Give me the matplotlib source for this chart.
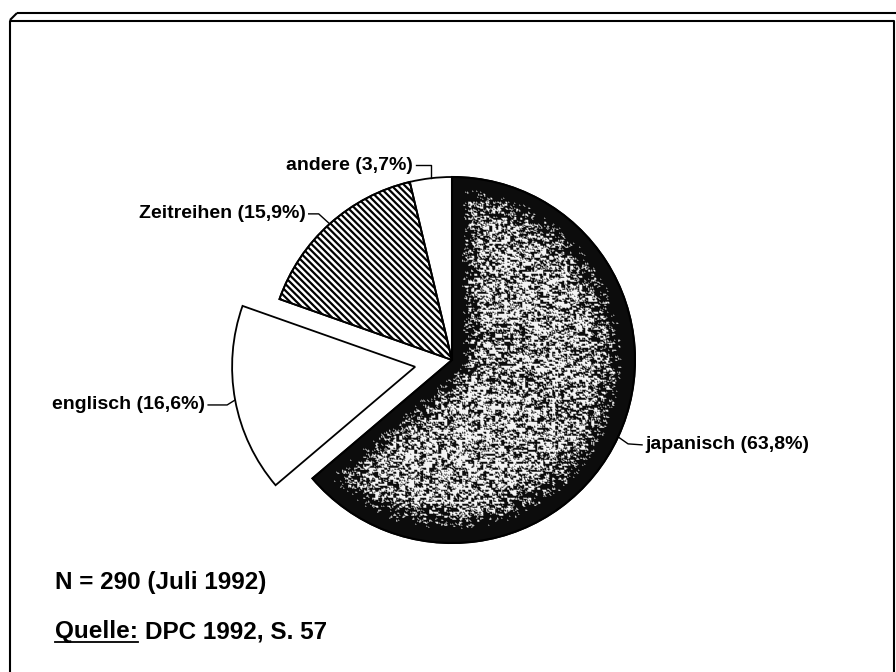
import numpy as np
import matplotlib
matplotlib.use("Agg")
import matplotlib.pyplot as plt
from matplotlib.patches import Wedge
from matplotlib.collections import LineCollection

# data
labels = ["japanisch", "englisch", "Zeitreihen", "andere"]
shares = [63.8, 16.6, 15.9, 3.7]
explode = [0.0, 0.205, 0.0, 0.0]
note_n = "N = 290 (Juli 1992)"
source_head = "Quelle:"
source_text = "DPC 1992, S. 57"

W, H = 896, 672                 # canvas in pixels, y up
CX, CY, R = 452, 312, 183       # pie centre and radius
FONT = ["Liberation Sans", "DejaVu Sans"]
plt.rcParams['font.family'] = FONT

# leader elbows relative to the arc point at the wedge middle, text side
LEADERS = {"japanisch": ([(10, -7), (24, -8)], 'left'),
           "englisch": ([(-8, -5), (-27, -5)], 'right'),
           "Zeitreihen": ([(-11, 10), (-21, 10)], 'right'),
           "andere": ([(0, 13), (-15, 13)], 'right')}

fig = plt.figure(figsize=(W / 100, H / 100), dpi=100)
ax = fig.add_axes([0, 0, 1, 1])
ax.set_xlim(0, W); ax.set_ylim(0, H); ax.axis('off')


def fmt(v):
    return f"{v:.1f}".replace('.', ',')


def hashnoise(ix, iy, seed):
    """integer hash of pixel coordinates -> [0, 1)"""
    h = (ix.astype(np.uint64) * 374761393 + iy.astype(np.uint64) * 668265263
         + seed * 2246822519) & 0xFFFFFFFF
    h = ((h ^ (h >> 13)) * 1274126177) & 0xFFFFFFFF
    h = h ^ (h >> 16)
    return h.astype(np.float64) / 4294967296.0


def stipple(cx, cy, t1, t2):
    """grey grain, solid black towards the wedge border"""
    IX, IY = np.meshgrid(np.arange(W), np.arange(H))
    dx, dy = IX + 0.5 - cx, IY + 0.5 - cy
    r = np.hypot(dx, dy)

    def ray(a):
        ux, uy = np.cos(np.deg2rad(a)), np.sin(np.deg2rad(a))
        along = dx * ux + dy * uy
        return np.where(along > 0, np.abs(dx * uy - dy * ux), r)

    d = np.minimum(R - r, np.minimum(ray(t1), ray(t2)) * 1.25)
    p = 0.42 + 0.58 * np.clip((46 - d) / 34, 0, 1) ** 1.3
    fine = hashnoise(IX, IY, 1)
    coarse = hashnoise(IX // 3, IY // 2, 2)
    n = 0.6 * coarse + 0.4 * fine
    u = n.ravel().argsort().argsort().reshape(n.shape) / n.size
    img = np.where(u < p, 0.0, 1.0)
    # soften the grain a little, like a scanned screen
    img = (img * 2 + np.roll(img, 1, 0) + np.roll(img, 1, 1)) / 4
    return 0.05 + 0.9 * img


theta = 90.0
total = sum(shares)
for lab, v, ex in zip(labels, shares, explode):
    span = 360.0 * v / total
    t1, t2 = theta - span, theta
    theta = t1
    mid = np.deg2rad((t1 + t2) / 2)
    cx, cy = CX + ex * R * np.cos(mid), CY + ex * R * np.sin(mid)
    w = Wedge((cx, cy), R, t1, t2, facecolor='white', edgecolor='black',
              linewidth=1.3, zorder=2)
    ax.add_patch(w)
    if lab == "japanisch":
        im = ax.imshow(stipple(cx, cy, t1, t2), extent=(0, W, 0, H),
                       origin='lower', cmap='gray', vmin=0, vmax=1,
                       interpolation='nearest', zorder=3)
        im.set_clip_path(w)
        ax.add_patch(Wedge((cx, cy), R, t1, t2, facecolor='none',
                           edgecolor='black', linewidth=1.5, zorder=4))
        ax.set_xlim(0, W); ax.set_ylim(0, H)
    elif lab == "Zeitreihen":
        cs = np.arange(CX - 2 * R, CX + 3 * R, 6.6)
        segs = [[(c, CY + R), (c + 2 * R, CY - R)] for c in cs]
        lc = LineCollection(segs, colors='black', linewidths=1.6, zorder=3)
        ax.add_collection(lc)
        lc.set_clip_path(w)
        ax.add_patch(Wedge((cx, cy), R, t1, t2, facecolor='none',
                           edgecolor='black', linewidth=1.3, zorder=4))

    # leader and label
    ax0, ay0 = cx + R * np.cos(mid), cy + R * np.sin(mid)
    elbows, side = LEADERS[lab]
    pts = [(ax0, ay0)] + [(ax0 + ox, ay0 + oy) for ox, oy in elbows]
    xs, ys = zip(*pts)
    ax.plot(xs, ys, color='black', lw=1.0, zorder=5)
    tx = xs[-1] + (3 if side == 'left' else -3)
    ax.text(tx, ys[-1], f"{lab} ({fmt(v)}%)", ha=side, va='center',
            fontsize=14, fontweight='bold', zorder=5)

# notes
ax.text(55, 83, note_n, ha='left', va='baseline', fontsize=17.5,
        fontweight='bold')
qt = ax.text(55, 34, source_head, ha='left', va='baseline', fontsize=17.5,
             fontweight='bold')
fig.canvas.draw()
bb = qt.get_window_extent()
ax.plot([bb.x0, bb.x1], [30, 30], color='black', lw=1.3)
ax.text(bb.x1 + 7, 34, source_text, ha='left', va='baseline', fontsize=17.5,
        fontweight='bold')

# frame of the scanned page
fr = dict(color='black', lw=1.5, solid_capstyle='butt')
ax.plot([17, W], [659, 659], **fr)
ax.plot([17, 10], [659, 652], **fr)
ax.plot([10, 10, 894, 894], [0, 651, 651, 0], **fr)

fig.savefig("out.png", dpi=100)
